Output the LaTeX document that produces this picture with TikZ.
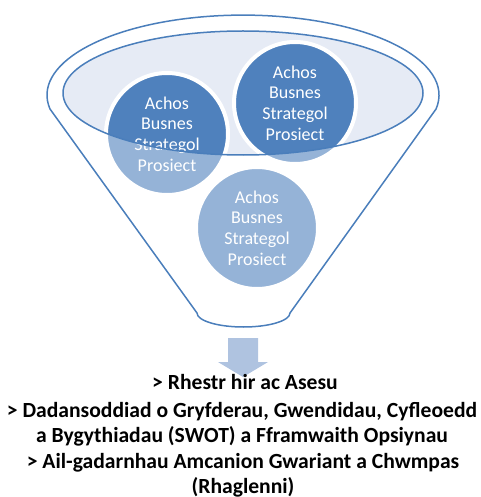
\documentclass[tikz,border=0pt]{standalone}
\usepackage{fontspec}
\setmainfont{Carlito}
\definecolor{funnelline}{HTML}{4A7EBB}
\definecolor{topfill}{HTML}{E6EBF5}
\definecolor{darkblue}{HTML}{4F81BD}
\definecolor{lightblue}{HTML}{95B3D7}
\definecolor{arrowblue}{HTML}{AFC3E0}
\begin{document}
\begin{tikzpicture}[x=1pt, y=-1pt,
    funnel/.style={draw=funnelline, line width=1.5pt, line join=round},
    bubble/.style={circle, minimum size=122pt, inner sep=0pt, fill=lightblue,
        draw=white, line width=4pt, text=white, align=center,
        font=\fontsize{18}{20.7}\selectfont,
        path picture={\fill[darkblue] (ell) ellipse [x radius=180, y radius=62];}},
    item/.style={anchor=base, align=center, font=\bfseries\fontsize{21.6}{25}\selectfont}]
    \useasboundingbox (0,0) rectangle (480,497);
    \clip (0,0) rectangle (480,497);
    % funnel body
    \draw[funnel] (50,109) arc[start angle=170, end angle=370, x radius=196, y radius=80]
        -- (290,313) arc[start angle=0, end angle=180, x radius=46.5, y radius=14] -- cycle;
    \coordinate (ell) at (243,93);
    \fill[topfill] (ell) ellipse [x radius=180, y radius=62];
    % circles
    \foreach \n/\x/\y in {c1/167/134, c2/295/103, c3/257/228}
    {
        \node[bubble] (\n) at (\x,\y) {Achos\\Busnes\\Strategol\\Prosiect};
    }
    \draw[funnel] (ell) ellipse [x radius=180, y radius=62];
    % arrow down
    \fill[arrowblue] (228,338) -- (258,338) -- (258,362) -- (268,362) -- (243,377)
        -- (218,362) -- (228,362) -- cycle;
    % base anchor sits on the last line
    \node[item] (t1) at (245,389) {> Rhestr hir ac Asesu};
    \node[item] (t2) at (242,442) {> Dadansoddiad o Gryfderau, Gwendidau, Cyfleoedd\\a Bygythiadau (SWOT) a Fframwaith Opsiynau};
    \node[item] (t3) at (243,493) {> Ail-gadarnhau Amcanion Gwariant a Chwmpas\\(Rhaglenni)};
\end{tikzpicture}
\end{document}
